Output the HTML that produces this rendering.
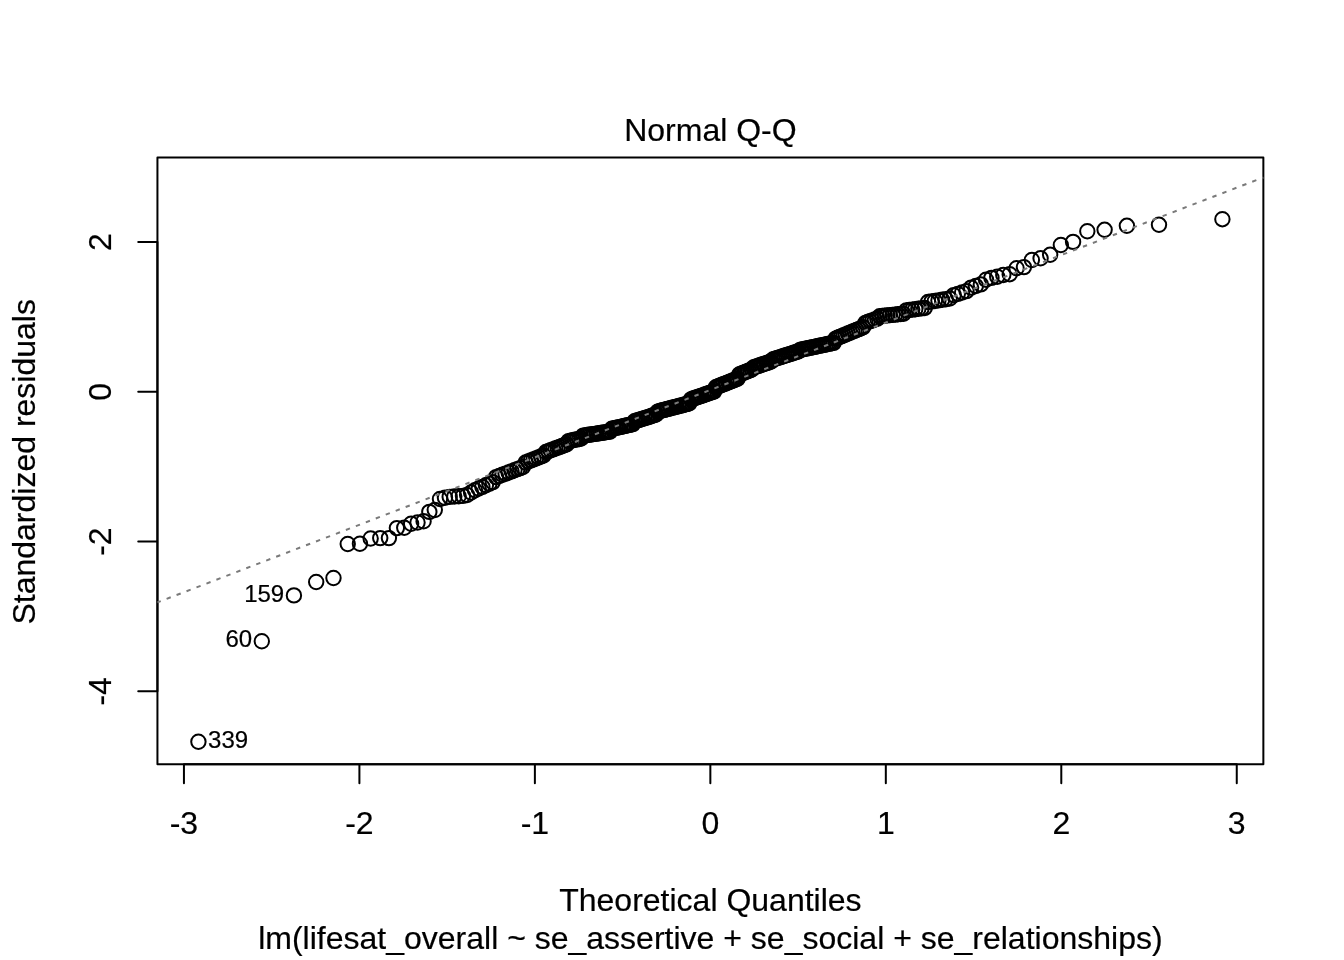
<!DOCTYPE html>
<html lang="en"><head><meta charset="utf-8"><title>Normal Q-Q</title>
<style>html,body{margin:0;padding:0;background:#fff}svg{display:block}text{font-family:'Liberation Sans',Arial,Helvetica,sans-serif;fill:#000;stroke:#000;stroke-width:0.2px}</style></head><body>
<svg width="1344" height="960" viewBox="0 0 1344 960">
<rect width="1344" height="960" fill="#fff"/>
<g fill="none" stroke="#000" stroke-width="2">
<circle cx="198.41" cy="741.75" r="7.2"/>
<circle cx="261.81" cy="641.25" r="7.2"/>
<circle cx="293.92" cy="595.40" r="7.2"/>
<circle cx="316.19" cy="582.00" r="7.2"/>
<circle cx="333.48" cy="578.00" r="7.2"/>
<circle cx="347.74" cy="544.00" r="7.2"/>
<circle cx="359.94" cy="543.75" r="7.2"/>
<circle cx="370.66" cy="538.50" r="7.2"/>
<circle cx="380.23" cy="538.10" r="7.2"/>
<circle cx="388.92" cy="538.10" r="7.2"/>
<circle cx="396.88" cy="528.10" r="7.2"/>
<circle cx="404.24" cy="527.75" r="7.2"/>
<circle cx="411.10" cy="523.75" r="7.2"/>
<circle cx="417.53" cy="522.50" r="7.2"/>
<circle cx="423.59" cy="521.25" r="7.2"/>
<circle cx="429.33" cy="511.90" r="7.2"/>
<circle cx="434.78" cy="510.00" r="7.2"/>
<circle cx="439.98" cy="499.00" r="7.2"/>
<circle cx="444.95" cy="497.75" r="7.2"/>
<circle cx="449.71" cy="496.90" r="7.2"/>
<circle cx="454.29" cy="496.50" r="7.2"/>
<circle cx="458.70" cy="496.25" r="7.2"/>
<circle cx="462.96" cy="495.90" r="7.2"/>
<circle cx="467.08" cy="495.00" r="7.2"/>
<circle cx="471.07" cy="492.50" r="7.2"/>
<circle cx="474.94" cy="490.23" r="7.2"/>
<circle cx="478.69" cy="488.52" r="7.2"/>
<circle cx="482.35" cy="486.85" r="7.2"/>
<circle cx="485.90" cy="485.23" r="7.2"/>
<circle cx="489.37" cy="483.65" r="7.2"/>
<circle cx="492.75" cy="482.11" r="7.2"/>
<circle cx="496.06" cy="477.15" r="7.2"/>
<circle cx="499.29" cy="475.94" r="7.2"/>
<circle cx="502.45" cy="474.75" r="7.2"/>
<circle cx="505.54" cy="473.59" r="7.2"/>
<circle cx="508.57" cy="472.45" r="7.2"/>
<circle cx="511.54" cy="471.34" r="7.2"/>
<circle cx="514.46" cy="470.24" r="7.2"/>
<circle cx="517.32" cy="469.16" r="7.2"/>
<circle cx="520.13" cy="468.11" r="7.2"/>
<circle cx="522.90" cy="467.07" r="7.2"/>
<circle cx="525.62" cy="462.51" r="7.2"/>
<circle cx="528.29" cy="461.46" r="7.2"/>
<circle cx="530.93" cy="460.42" r="7.2"/>
<circle cx="533.52" cy="459.40" r="7.2"/>
<circle cx="536.07" cy="458.39" r="7.2"/>
<circle cx="538.59" cy="457.40" r="7.2"/>
<circle cx="541.08" cy="456.42" r="7.2"/>
<circle cx="543.53" cy="455.45" r="7.2"/>
<circle cx="545.95" cy="452.03" r="7.2"/>
<circle cx="548.33" cy="451.14" r="7.2"/>
<circle cx="550.69" cy="450.26" r="7.2"/>
<circle cx="553.02" cy="449.40" r="7.2"/>
<circle cx="555.32" cy="448.54" r="7.2"/>
<circle cx="557.60" cy="447.70" r="7.2"/>
<circle cx="559.85" cy="446.86" r="7.2"/>
<circle cx="562.07" cy="446.03" r="7.2"/>
<circle cx="564.28" cy="445.22" r="7.2"/>
<circle cx="566.46" cy="444.41" r="7.2"/>
<circle cx="568.61" cy="441.15" r="7.2"/>
<circle cx="570.75" cy="440.70" r="7.2"/>
<circle cx="572.86" cy="440.25" r="7.2"/>
<circle cx="574.96" cy="439.81" r="7.2"/>
<circle cx="577.04" cy="439.37" r="7.2"/>
<circle cx="579.10" cy="438.94" r="7.2"/>
<circle cx="581.14" cy="438.51" r="7.2"/>
<circle cx="583.16" cy="435.67" r="7.2"/>
<circle cx="585.16" cy="435.37" r="7.2"/>
<circle cx="587.15" cy="435.06" r="7.2"/>
<circle cx="589.13" cy="434.77" r="7.2"/>
<circle cx="591.09" cy="434.47" r="7.2"/>
<circle cx="593.03" cy="434.17" r="7.2"/>
<circle cx="594.96" cy="433.88" r="7.2"/>
<circle cx="596.88" cy="433.59" r="7.2"/>
<circle cx="598.78" cy="433.30" r="7.2"/>
<circle cx="600.67" cy="433.02" r="7.2"/>
<circle cx="602.55" cy="432.73" r="7.2"/>
<circle cx="604.41" cy="432.45" r="7.2"/>
<circle cx="606.26" cy="432.17" r="7.2"/>
<circle cx="608.10" cy="431.89" r="7.2"/>
<circle cx="609.93" cy="431.61" r="7.2"/>
<circle cx="611.75" cy="428.80" r="7.2"/>
<circle cx="613.56" cy="428.40" r="7.2"/>
<circle cx="615.36" cy="428.01" r="7.2"/>
<circle cx="617.15" cy="427.61" r="7.2"/>
<circle cx="618.93" cy="427.22" r="7.2"/>
<circle cx="620.70" cy="426.84" r="7.2"/>
<circle cx="622.46" cy="426.45" r="7.2"/>
<circle cx="624.21" cy="426.07" r="7.2"/>
<circle cx="625.95" cy="425.68" r="7.2"/>
<circle cx="627.69" cy="425.30" r="7.2"/>
<circle cx="629.41" cy="424.92" r="7.2"/>
<circle cx="631.13" cy="424.55" r="7.2"/>
<circle cx="632.84" cy="424.17" r="7.2"/>
<circle cx="634.55" cy="421.29" r="7.2"/>
<circle cx="636.24" cy="420.76" r="7.2"/>
<circle cx="637.93" cy="420.23" r="7.2"/>
<circle cx="639.62" cy="419.70" r="7.2"/>
<circle cx="641.29" cy="419.18" r="7.2"/>
<circle cx="642.96" cy="418.65" r="7.2"/>
<circle cx="644.63" cy="418.13" r="7.2"/>
<circle cx="646.28" cy="417.61" r="7.2"/>
<circle cx="647.94" cy="417.09" r="7.2"/>
<circle cx="649.58" cy="416.58" r="7.2"/>
<circle cx="651.23" cy="416.06" r="7.2"/>
<circle cx="652.86" cy="415.55" r="7.2"/>
<circle cx="654.49" cy="415.04" r="7.2"/>
<circle cx="656.12" cy="414.53" r="7.2"/>
<circle cx="657.74" cy="411.58" r="7.2"/>
<circle cx="659.36" cy="411.16" r="7.2"/>
<circle cx="660.97" cy="410.73" r="7.2"/>
<circle cx="662.58" cy="410.31" r="7.2"/>
<circle cx="664.19" cy="409.90" r="7.2"/>
<circle cx="665.79" cy="409.48" r="7.2"/>
<circle cx="667.39" cy="409.06" r="7.2"/>
<circle cx="668.98" cy="408.64" r="7.2"/>
<circle cx="670.57" cy="408.23" r="7.2"/>
<circle cx="672.16" cy="407.81" r="7.2"/>
<circle cx="673.74" cy="407.40" r="7.2"/>
<circle cx="675.33" cy="406.99" r="7.2"/>
<circle cx="676.90" cy="406.58" r="7.2"/>
<circle cx="678.48" cy="406.16" r="7.2"/>
<circle cx="680.05" cy="405.75" r="7.2"/>
<circle cx="681.62" cy="405.34" r="7.2"/>
<circle cx="683.19" cy="404.93" r="7.2"/>
<circle cx="684.76" cy="404.53" r="7.2"/>
<circle cx="686.32" cy="404.12" r="7.2"/>
<circle cx="687.88" cy="403.71" r="7.2"/>
<circle cx="689.44" cy="403.30" r="7.2"/>
<circle cx="691.00" cy="399.35" r="7.2"/>
<circle cx="692.56" cy="398.82" r="7.2"/>
<circle cx="694.12" cy="398.28" r="7.2"/>
<circle cx="695.67" cy="397.75" r="7.2"/>
<circle cx="697.22" cy="397.21" r="7.2"/>
<circle cx="698.78" cy="396.68" r="7.2"/>
<circle cx="700.33" cy="396.15" r="7.2"/>
<circle cx="701.88" cy="395.61" r="7.2"/>
<circle cx="703.43" cy="395.08" r="7.2"/>
<circle cx="704.98" cy="394.55" r="7.2"/>
<circle cx="706.53" cy="394.02" r="7.2"/>
<circle cx="708.08" cy="393.48" r="7.2"/>
<circle cx="709.63" cy="392.95" r="7.2"/>
<circle cx="711.17" cy="392.42" r="7.2"/>
<circle cx="712.72" cy="391.89" r="7.2"/>
<circle cx="714.27" cy="391.35" r="7.2"/>
<circle cx="715.82" cy="387.29" r="7.2"/>
<circle cx="717.37" cy="386.67" r="7.2"/>
<circle cx="718.92" cy="386.06" r="7.2"/>
<circle cx="720.47" cy="385.44" r="7.2"/>
<circle cx="722.02" cy="384.82" r="7.2"/>
<circle cx="723.58" cy="384.20" r="7.2"/>
<circle cx="725.13" cy="383.58" r="7.2"/>
<circle cx="726.68" cy="382.96" r="7.2"/>
<circle cx="728.24" cy="382.34" r="7.2"/>
<circle cx="729.80" cy="381.72" r="7.2"/>
<circle cx="731.36" cy="381.10" r="7.2"/>
<circle cx="732.92" cy="380.48" r="7.2"/>
<circle cx="734.48" cy="379.86" r="7.2"/>
<circle cx="736.04" cy="379.24" r="7.2"/>
<circle cx="737.61" cy="378.61" r="7.2"/>
<circle cx="739.18" cy="374.49" r="7.2"/>
<circle cx="740.75" cy="373.87" r="7.2"/>
<circle cx="742.32" cy="373.25" r="7.2"/>
<circle cx="743.90" cy="372.63" r="7.2"/>
<circle cx="745.47" cy="372.01" r="7.2"/>
<circle cx="747.06" cy="371.39" r="7.2"/>
<circle cx="748.64" cy="370.76" r="7.2"/>
<circle cx="750.23" cy="370.14" r="7.2"/>
<circle cx="751.82" cy="369.51" r="7.2"/>
<circle cx="753.41" cy="367.46" r="7.2"/>
<circle cx="755.01" cy="366.93" r="7.2"/>
<circle cx="756.61" cy="366.39" r="7.2"/>
<circle cx="758.22" cy="365.86" r="7.2"/>
<circle cx="759.83" cy="365.32" r="7.2"/>
<circle cx="761.44" cy="364.78" r="7.2"/>
<circle cx="763.06" cy="364.23" r="7.2"/>
<circle cx="764.68" cy="363.69" r="7.2"/>
<circle cx="766.31" cy="363.15" r="7.2"/>
<circle cx="767.94" cy="362.60" r="7.2"/>
<circle cx="769.57" cy="362.05" r="7.2"/>
<circle cx="771.22" cy="361.50" r="7.2"/>
<circle cx="772.86" cy="359.47" r="7.2"/>
<circle cx="774.52" cy="358.95" r="7.2"/>
<circle cx="776.17" cy="358.42" r="7.2"/>
<circle cx="777.84" cy="357.89" r="7.2"/>
<circle cx="779.51" cy="357.36" r="7.2"/>
<circle cx="781.18" cy="356.83" r="7.2"/>
<circle cx="782.87" cy="356.30" r="7.2"/>
<circle cx="784.56" cy="355.76" r="7.2"/>
<circle cx="786.25" cy="355.22" r="7.2"/>
<circle cx="787.96" cy="354.68" r="7.2"/>
<circle cx="789.67" cy="354.14" r="7.2"/>
<circle cx="791.39" cy="353.59" r="7.2"/>
<circle cx="793.11" cy="353.05" r="7.2"/>
<circle cx="794.85" cy="352.49" r="7.2"/>
<circle cx="796.59" cy="351.94" r="7.2"/>
<circle cx="798.34" cy="351.39" r="7.2"/>
<circle cx="800.10" cy="349.84" r="7.2"/>
<circle cx="801.87" cy="349.47" r="7.2"/>
<circle cx="803.65" cy="349.10" r="7.2"/>
<circle cx="805.44" cy="348.72" r="7.2"/>
<circle cx="807.24" cy="348.35" r="7.2"/>
<circle cx="809.05" cy="347.97" r="7.2"/>
<circle cx="810.87" cy="347.59" r="7.2"/>
<circle cx="812.70" cy="347.21" r="7.2"/>
<circle cx="814.54" cy="346.83" r="7.2"/>
<circle cx="816.39" cy="346.44" r="7.2"/>
<circle cx="818.25" cy="346.05" r="7.2"/>
<circle cx="820.13" cy="345.66" r="7.2"/>
<circle cx="822.02" cy="345.27" r="7.2"/>
<circle cx="823.92" cy="344.87" r="7.2"/>
<circle cx="825.84" cy="344.47" r="7.2"/>
<circle cx="827.77" cy="344.07" r="7.2"/>
<circle cx="829.71" cy="343.66" r="7.2"/>
<circle cx="831.67" cy="343.25" r="7.2"/>
<circle cx="833.65" cy="342.84" r="7.2"/>
<circle cx="835.64" cy="338.65" r="7.2"/>
<circle cx="837.64" cy="337.82" r="7.2"/>
<circle cx="839.66" cy="336.98" r="7.2"/>
<circle cx="841.70" cy="336.14" r="7.2"/>
<circle cx="843.76" cy="335.29" r="7.2"/>
<circle cx="845.84" cy="334.43" r="7.2"/>
<circle cx="847.94" cy="333.56" r="7.2"/>
<circle cx="850.05" cy="332.69" r="7.2"/>
<circle cx="852.19" cy="331.80" r="7.2"/>
<circle cx="854.34" cy="330.91" r="7.2"/>
<circle cx="856.52" cy="330.01" r="7.2"/>
<circle cx="858.73" cy="329.10" r="7.2"/>
<circle cx="860.95" cy="328.18" r="7.2"/>
<circle cx="863.20" cy="327.25" r="7.2"/>
<circle cx="865.48" cy="322.89" r="7.2"/>
<circle cx="867.78" cy="322.06" r="7.2"/>
<circle cx="870.11" cy="321.22" r="7.2"/>
<circle cx="872.47" cy="320.38" r="7.2"/>
<circle cx="874.85" cy="319.52" r="7.2"/>
<circle cx="877.27" cy="318.65" r="7.2"/>
<circle cx="879.72" cy="316.20" r="7.2"/>
<circle cx="882.21" cy="315.95" r="7.2"/>
<circle cx="884.73" cy="315.68" r="7.2"/>
<circle cx="887.28" cy="315.42" r="7.2"/>
<circle cx="889.87" cy="315.15" r="7.2"/>
<circle cx="892.51" cy="314.87" r="7.2"/>
<circle cx="895.18" cy="314.60" r="7.2"/>
<circle cx="897.90" cy="314.31" r="7.2"/>
<circle cx="900.67" cy="314.03" r="7.2"/>
<circle cx="903.48" cy="313.73" r="7.2"/>
<circle cx="906.34" cy="310.36" r="7.2"/>
<circle cx="909.26" cy="309.98" r="7.2"/>
<circle cx="912.23" cy="309.60" r="7.2"/>
<circle cx="915.26" cy="309.20" r="7.2"/>
<circle cx="918.35" cy="308.80" r="7.2"/>
<circle cx="921.51" cy="308.39" r="7.2"/>
<circle cx="924.74" cy="307.97" r="7.2"/>
<circle cx="928.05" cy="302.07" r="7.2"/>
<circle cx="931.43" cy="301.53" r="7.2"/>
<circle cx="934.90" cy="300.96" r="7.2"/>
<circle cx="938.45" cy="300.39" r="7.2"/>
<circle cx="942.11" cy="299.80" r="7.2"/>
<circle cx="945.86" cy="299.19" r="7.2"/>
<circle cx="949.73" cy="298.56" r="7.2"/>
<circle cx="953.72" cy="295.12" r="7.2"/>
<circle cx="957.84" cy="293.83" r="7.2"/>
<circle cx="962.10" cy="292.50" r="7.2"/>
<circle cx="966.51" cy="291.12" r="7.2"/>
<circle cx="971.09" cy="287.60" r="7.2"/>
<circle cx="975.85" cy="286.03" r="7.2"/>
<circle cx="980.82" cy="284.39" r="7.2"/>
<circle cx="986.02" cy="279.69" r="7.2"/>
<circle cx="991.47" cy="277.90" r="7.2"/>
<circle cx="997.21" cy="276.70" r="7.2"/>
<circle cx="1003.27" cy="275.00" r="7.2"/>
<circle cx="1009.70" cy="274.20" r="7.2"/>
<circle cx="1016.56" cy="268.20" r="7.2"/>
<circle cx="1023.92" cy="267.10" r="7.2"/>
<circle cx="1031.88" cy="260.00" r="7.2"/>
<circle cx="1040.57" cy="258.30" r="7.2"/>
<circle cx="1050.14" cy="254.80" r="7.2"/>
<circle cx="1060.86" cy="245.00" r="7.2"/>
<circle cx="1073.06" cy="241.90" r="7.2"/>
<circle cx="1087.32" cy="231.25" r="7.2"/>
<circle cx="1104.61" cy="229.80" r="7.2"/>
<circle cx="1126.88" cy="225.80" r="7.2"/>
<circle cx="1158.99" cy="224.80" r="7.2"/>
<circle cx="1222.39" cy="219.20" r="7.2"/>
</g>
<g fill="none" stroke="#000" stroke-width="2" stroke-linecap="round" stroke-linejoin="round">
<path d="M183.94 764.16H1236.76M183.94 764.16v19.2M359.41 764.16v19.2M534.88 764.16v19.2M710.35 764.16v19.2M885.82 764.16v19.2M1061.29 764.16v19.2M1236.76 764.16v19.2"/>
<path d="M157.44 691.32V242.10M157.44 691.32h-19.2M157.44 541.58h-19.2M157.44 391.84h-19.2M157.44 242.10h-19.2"/>
<rect x="157.44" y="157.44" width="1105.92" height="606.72"/>
</g>
<g font-size="32" text-anchor="middle">
<text x="183.94" y="834.0">-3</text>
<text x="359.41" y="834.0">-2</text>
<text x="534.88" y="834.0">-1</text>
<text x="710.35" y="834.0">0</text>
<text x="885.82" y="834.0">1</text>
<text x="1061.29" y="834.0">2</text>
<text x="1236.76" y="834.0">3</text>
<text transform="translate(111.36 691.32) rotate(-90)">-4</text>
<text transform="translate(111.36 541.58) rotate(-90)">-2</text>
<text transform="translate(111.36 391.84) rotate(-90)">0</text>
<text transform="translate(111.36 242.10) rotate(-90)">2</text>
<text x="710.4" y="140.6">Normal Q-Q</text>
<text x="710.4" y="910.5">Theoretical Quantiles</text>
<text x="710.4" y="948.8">lm(lifesat_overall ~ se_assertive + se_social + se_relationships)</text>
<text transform="translate(34.56 461.80) rotate(-90)">Standardized residuals</text>
</g>
<g font-size="24">
<text x="208.11" y="747.65">339</text>
<text x="252.11" y="647.15" text-anchor="end">60</text>
<text x="284.22" y="602.40" text-anchor="end">159</text>
</g>
<line x1="157.44" y1="602.4" x2="1263.36" y2="177.45" stroke="#7a7a7a" stroke-width="2" stroke-dasharray="4.4 6.27" stroke-dashoffset="0.85" fill="none"/>
</svg></body></html>
